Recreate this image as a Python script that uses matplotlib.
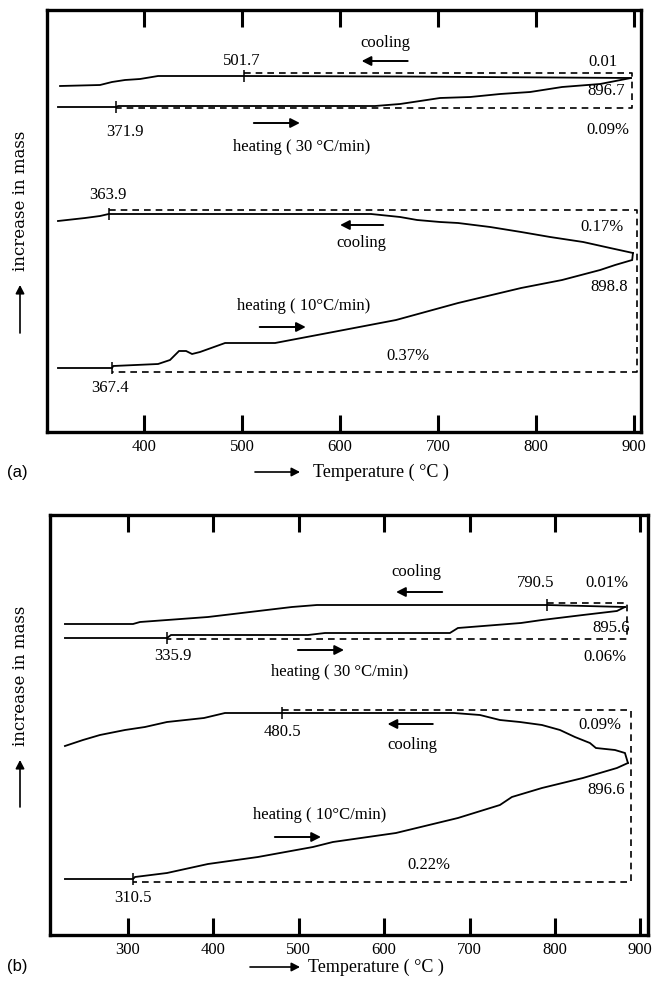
import matplotlib
matplotlib.use("Agg")
import matplotlib.pyplot as plt

# ---------------- data (temperature in degC, mass signal in arbitrary units) -------------
# panel (a)
a_cool30_T = [314.3, 355.1, 367.3, 380.6, 395.9, 414.3, 501.7, 661.2, 896.7]
a_cool30_m = [346, 347, 350, 352, 353, 356, 356, 355.5, 354]
a_heat30_T = [312.2, 371.9, 373.5, 635.7, 661.2, 702.0, 732.7, 763.3, 793.9, 826.5, 865.3, 896.7]
a_heat30_m = [325, 325, 326, 326, 328, 334, 335, 338, 340, 345, 348, 354]
a_cool10_T = [312.2, 339.8, 355.1, 363.9, 631.6, 661.2, 678.6, 702.0, 720.4, 753.1, 784.7,
              814.3, 848.0, 875.5, 898.8]
a_cool10_m = [211, 214, 216, 218, 218, 215, 212, 210, 209, 205, 200, 195, 190, 184, 179]
a_heat10_T = [312.2, 367.4, 368.5, 414.3, 426.5, 435.7, 442.9, 449.0, 457.1, 482.7, 533.7,
              592.9, 657.1, 720.4, 784.7, 826.5, 865.3, 880.6, 898.0, 898.8]
a_heat10_m = [64, 64, 66, 68, 72, 81, 81, 78, 80, 89, 89, 100, 112, 129, 144, 152, 162, 167, 172, 179]
a_marks_T = [501.7, 371.9, 363.9, 367.4]
a_marks_m = [356, 325, 218, 64]
a_box30_T = [501.7, 898.0, 898.0, 371.9]
a_box30_m = [359, 359, 324, 324]
a_box10_T = [363.9, 903.0, 903.0, 367.4]
a_box10_m = [222, 222, 60, 60]

# panel (b)
b_cool30_T = [226.2, 305.9, 314.1, 393.7, 442.9, 492.0, 521.3, 790.5, 882.0]
b_cool30_m = [311, 311, 313, 318, 323, 328, 330, 330, 328]
b_heat30_T = [226.2, 345.7, 350.4, 510.8, 530.7, 677.0, 686.4, 760.2, 784.8, 832.8, 872.6, 882.0]
b_heat30_m = [297, 297, 300, 300, 302, 302, 307, 312, 315, 320, 324, 328]
b_cool10_T = [226.2, 247.3, 267.2, 296.5, 319.9, 345.7, 389.0, 413.6, 480.5, 681.7, 712.2,
              735.6, 759.0, 784.8, 805.9, 823.4, 841.0, 848.0, 870.3, 882.0, 885.5]
b_cool10_m = [189, 195, 200, 205, 208, 213, 217, 222, 222, 222, 220, 215, 213, 210, 205,
              198, 192, 187, 185, 182, 172]
b_heat10_T = [226.2, 305.9, 308.2, 345.7, 393.7, 452.2, 516.6, 540.0, 613.8, 686.4, 735.6,
              749.6, 784.8, 832.8, 872.6, 885.5]
b_heat10_m = [56, 56, 58, 62, 71, 78, 88, 93, 102, 117, 130, 138, 147, 157, 167, 172]
b_marks_T = [790.5, 345.7, 480.5, 305.9]
b_marks_m = [330, 297, 222, 56]
b_box30_T = [790.5, 884.3, 884.3, 345.7]
b_box30_m = [332, 332, 296, 296]
b_box10_T = [480.5, 889.0, 889.0, 305.9]
b_box10_m = [225, 225, 53, 53]

a_ticks = [400, 500, 600, 700, 800, 900]
b_ticks = [300, 400, 500, 600, 700, 800, 900]

# annotation texts (text, T, m)
a_labels = [("cooling", 646, 389), ("501.7", 500, 371), ("0.01", 868, 370),
            ("896.7", 871, 341), ("371.9", 381, 300), ("heating ( 30 °C/min)", 561, 285),
            ("0.09%", 873, 302), ("363.9", 363, 237), ("cooling", 622, 189),
            ("0.17%", 867, 205), ("898.8", 875, 145), ("heating ( 10°C/min)", 563, 126),
            ("0.37%", 669, 76), ("367.4", 365, 44)]
a_arrows = [((669, 371), (622, 371)), ((512, 309), (559, 309)),
            ((644, 207), (600, 207)), ((518, 105), (565, 105))]
b_labels = [("cooling", 638, 363), ("790.5", 777, 352), ("0.01%", 861, 352),
            ("895.6", 866, 307), ("0.06%", 858, 278), ("335.9", 353, 279),
            ("heating ( 30 °C/min)", 548, 263), ("480.5", 481, 203), ("cooling", 633, 190),
            ("0.09%", 853, 210), ("896.6", 860, 145), ("heating ( 10°C/min)", 524, 120),
            ("0.22%", 652, 70), ("310.5", 306, 37)]
b_arrows = [((668, 343), (614, 343)), ((499, 285), (553, 285)),
            ((657, 211), (604, 211)), ((472, 98), (526, 98))]

SERIF = ["Liberation Serif", "DejaVu Serif"]
W, H = 653, 985

fig = plt.figure(figsize=(W / 100, H / 100), dpi=100)
fig.patch.set_facecolor("white")


def make_panel(rect, xlim, ylim, ticks, curves, marks, boxes, labels, arrows):
    ax = fig.add_axes(rect)
    for T, m in curves:
        ax.plot(T, m, color="black", lw=1.3, solid_joinstyle="miter")
    ax.plot(marks[0], marks[1], ls="none", marker="|", ms=8, mew=1.1, color="black")
    for T, m in boxes:
        ax.plot(T, m, color="black", lw=1.2, ls=(0, (4, 3)))
    for txt, x, y in labels:
        ax.text(x, y, txt, ha="center", va="center", fontsize=12, family=SERIF)
    for (x0, y0), (x1, y1) in arrows:
        ax.annotate("", xy=(x1, y1), xytext=(x0, y0),
                    arrowprops=dict(arrowstyle="-|>,head_length=0.55,head_width=0.28",
                                    color="black", lw=1.4, shrinkA=0, shrinkB=0))
    ax.set_xlim(*xlim)
    ax.set_ylim(*ylim)
    ax.set_xticks(ticks)
    ax.set_xticklabels([str(t) for t in ticks], family=SERIF, fontsize=12)
    ax.set_yticks([])
    ax.tick_params(axis="x", direction="in", top=True, bottom=True, length=12,
                   width=2.2, pad=5)
    for s in ax.spines.values():
        s.set_linewidth(2.4)
    return ax


ax_a = make_panel([47 / W, (H - 432) / H, 594 / W, 422 / H], (301, 907), (0, 422), a_ticks,
                  [(a_cool30_T, a_cool30_m), (a_heat30_T, a_heat30_m),
                   (a_cool10_T, a_cool10_m), (a_heat10_T, a_heat10_m)],
                  (a_marks_T, a_marks_m),
                  [(a_box30_T, a_box30_m), (a_box10_T, a_box10_m)],
                  a_labels, a_arrows)
ax_b = make_panel([50 / W, (H - 935) / H, 598 / W, 420 / H], (208.7, 909), (0, 420), b_ticks,
                  [(b_cool30_T, b_cool30_m), (b_heat30_T, b_heat30_m),
                   (b_cool10_T, b_cool10_m), (b_heat10_T, b_heat10_m)],
                  (b_marks_T, b_marks_m),
                  [(b_box30_T, b_box30_m), (b_box10_T, b_box10_m)],
                  b_labels, b_arrows)


def fig_arrow(x0, y0, x1, y1):
    fig.add_artist(matplotlib.patches.FancyArrowPatch(
        (x0 / W, 1 - y0 / H), (x1 / W, 1 - y1 / H), transform=fig.transFigure,
        arrowstyle="-|>,head_length=5,head_width=2.6", color="black", lw=1.2,
        shrinkA=0, shrinkB=0))


# y labels with upward arrows
for yc, ya0, ya1 in [(201, 333, 285), (676, 807, 760)]:
    fig.text(21 / W, 1 - yc / H, "increase in mass", rotation=90, ha="center", va="center",
             fontsize=12, family=["DejaVu Serif"])
    fig_arrow(20, ya0, 20, ya1)

# x labels with right arrows and panel tags
for ylab, xa0, xa1, xt, tag in [(472, 255, 300, 313, "(a)"), (967, 250, 300, 308, "(b)")]:
    fig_arrow(xa0, ylab, xa1, ylab)
    fig.text(xt / W, 1 - ylab / H, "Temperature ( °C )", ha="left", va="center",
             fontsize=13, family=SERIF)
    fig.text(7 / W, 1 - ylab / H, tag, ha="left", va="center", fontsize=12,
             family=["Liberation Sans", "DejaVu Sans"])

fig.savefig("out.png", dpi=100, facecolor="white")
